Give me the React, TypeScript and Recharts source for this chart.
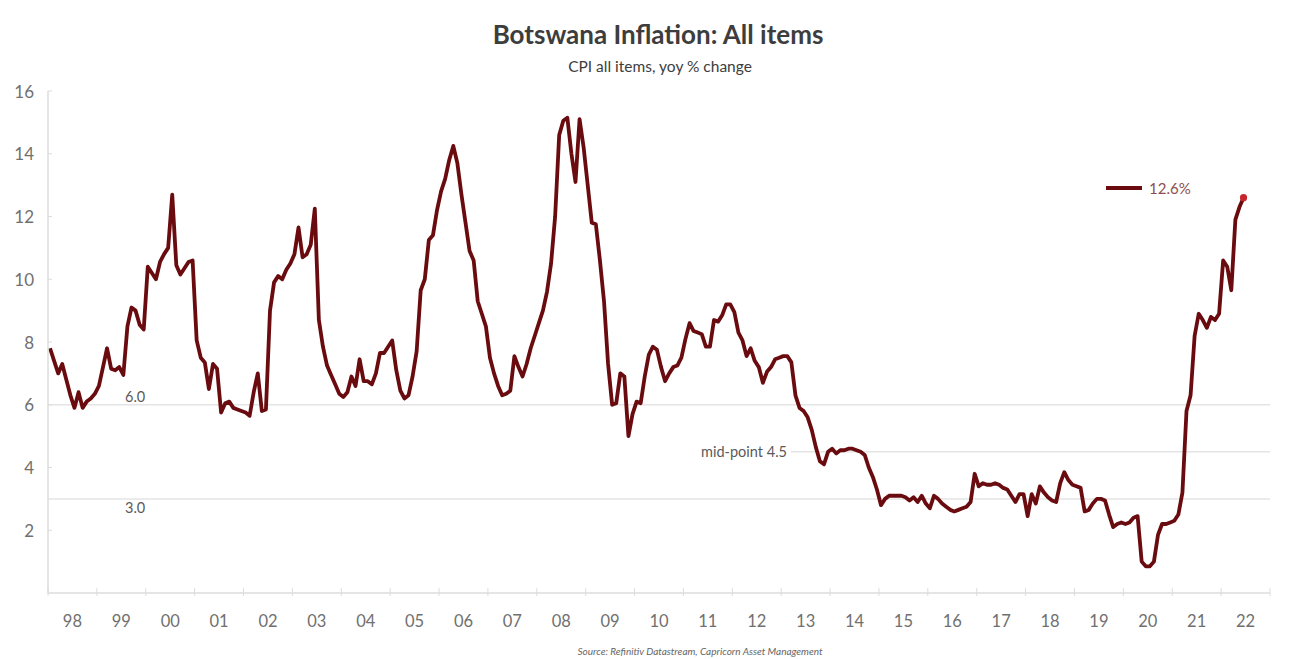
import { Line, LineChart, ReferenceLine, XAxis, YAxis } from "recharts";

// monthly CPI yoy %, Jan 1998 onwards
const startYear = 1998;
const cpiYoY: number[] = [
  // 1998
  7.8, 7.4, 7.0, 7.3, 6.8, 6.3, 5.9, 6.4, 5.9, 6.1, 6.2, 6.35,
  // 1999
  6.6, 7.2, 7.8, 7.15, 7.1, 7.2, 6.95, 8.5, 9.1, 9.0, 8.55, 8.4,
  // 2000
  10.4, 10.2, 10.0, 10.55, 10.8, 11.0, 12.7, 10.45, 10.15, 10.35, 10.55, 10.6,
  // 2001
  8.05, 7.5, 7.35, 6.5, 7.3, 7.15, 5.75, 6.05, 6.1, 5.9, 5.85, 5.8,
  // 2002
  5.75, 5.65, 6.4, 7.0, 5.8, 5.85, 9.0, 9.9, 10.1, 10.0, 10.3, 10.5,
  // 2003
  10.8, 11.65, 10.7, 10.8, 11.1, 12.25, 8.7, 7.85, 7.25, 6.95, 6.65, 6.35,
  // 2004
  6.25, 6.4, 6.9, 6.6, 7.45, 6.75, 6.75, 6.65, 7.0, 7.65, 7.65, 7.85,
  // 2005
  8.05, 7.1, 6.45, 6.2, 6.3, 6.9, 7.7, 9.65, 10.0, 11.25, 11.4, 12.2,
  // 2006
  12.8, 13.2, 13.8, 14.25, 13.7, 12.7, 11.8, 10.9, 10.6, 9.3, 8.9, 8.5,
  // 2007
  7.5, 7.0, 6.6, 6.3, 6.35, 6.45, 7.55, 7.2, 6.9, 7.3, 7.8, 8.2,
  // 2008
  8.6, 9.0, 9.6, 10.5, 12.0, 14.6, 15.05, 15.15, 14.0, 13.1, 15.1, 14.2,
  // 2009
  13.0, 11.8, 11.75, 10.6, 9.3, 7.3, 6.0, 6.05, 7.0, 6.9, 5.0, 5.7,
  // 2010
  6.1, 6.05, 6.9, 7.6, 7.85, 7.75, 7.2, 6.75, 7.0, 7.2, 7.25, 7.5,
  // 2011
  8.1, 8.6, 8.35, 8.3, 8.25, 7.85, 7.85, 8.7, 8.65, 8.85, 9.2, 9.2,
  // 2012
  8.95, 8.3, 8.05, 7.55, 7.8, 7.4, 7.2, 6.7, 7.05, 7.2, 7.45, 7.5,
  // 2013
  7.55, 7.55, 7.35, 6.3, 5.9, 5.8, 5.6, 5.2, 4.65, 4.2, 4.1, 4.5,
  // 2014
  4.6, 4.45, 4.55, 4.55, 4.6, 4.6, 4.55, 4.5, 4.4, 4.0, 3.7, 3.3,
  // 2015
  2.8, 3.0, 3.1, 3.1, 3.1, 3.1, 3.05, 2.95, 3.05, 2.9, 3.1, 2.85,
  // 2016
  2.7, 3.1, 3.0, 2.85, 2.75, 2.65, 2.6, 2.65, 2.7, 2.75, 2.9, 3.8,
  // 2017
  3.4, 3.5, 3.45, 3.45, 3.5, 3.45, 3.35, 3.3, 3.1, 2.9, 3.15, 3.15,
  // 2018
  2.45, 3.15, 2.85, 3.4, 3.2, 3.05, 2.95, 2.9, 3.5, 3.85, 3.6, 3.45,
  // 2019
  3.4, 3.35, 2.6, 2.65, 2.85, 3.0, 3.0, 2.95, 2.5, 2.1, 2.2, 2.25,
  // 2020
  2.2, 2.25, 2.4, 2.45, 1.0, 0.85, 0.85, 1.0, 1.85, 2.2, 2.2, 2.25,
  // 2021
  2.3, 2.5, 3.2, 5.8, 6.3, 8.2, 8.9, 8.7, 8.45, 8.8, 8.7, 8.9,
  // 2022
  10.6, 10.4, 9.65, 11.9, 12.3, 12.6,
];

const yearLabels = [
  "98", "99", "00", "01", "02", "03", "04", "05", "06", "07", "08", "09",
  "10", "11", "12", "13", "14", "15", "16", "17", "18", "19", "20", "21", "22",
];
const yTicks = [2, 4, 6, 8, 10, 12, 14, 16];
const bandLevels = [6, 4.5, 3];
const bandLabels = ["6.0", "mid-point 4.5", "3.0"];
// the mid-point line only starts to the right of its label
const bandStarts = [1998, 2013.2, 1998];
const latestLabel = "12.6%";

const title = "Botswana Inflation: All items";
const subtitle = "CPI all items, yoy % change";
const source = "Source: Refinitiv Datastream, Capricorn Asset Management";

const chartData = cpiYoY.map((v, i) => ({ t: startYear + (i + 0.5) / 12, v }));
const endYear = startYear + yearLabels.length;
const yearBounds = [...yearLabels.map((_, i) => startYear + i), endYear];

const WIDTH = 1302;
const HEIGHT = 659;
const PLOT_LEFT = 48;
const PLOT_RIGHT = 1270;
const PLOT_TOP = 91;
const PLOT_BOTTOM = 593;
const X_AXIS_H = 30;
const halfYear = (PLOT_RIGHT - PLOT_LEFT) / yearLabels.length / 2;

const FONT = "Lato, 'Open Sans', sans-serif";
const LINE_COLOR = "#6a0c0f";
const AXIS = "#dcdcdc";
const TICK_TEXT = "#707070";

function YearTick(props: any) {
  const { x, y, payload } = props;
  const idx = Math.round(payload.value - startYear);
  return (
    <g>
      <line x1={x} x2={x} y1={y - 5} y2={y + 3} stroke={AXIS} strokeWidth={1} />
      {idx < yearLabels.length && (
        <text
          x={x + halfYear}
          y={y + 28}
          textAnchor="middle"
          dominantBaseline="central"
          fontFamily={FONT}
          fontSize={16.5}
          fill={TICK_TEXT}
        >
          {yearLabels[idx]}
        </text>
      )}
    </g>
  );
}

function ValueTick(props: any) {
  const { x, y, payload } = props;
  return (
    <g>
      <line x1={PLOT_LEFT} x2={PLOT_LEFT + 4} y1={y} y2={y} stroke={AXIS} />
      <text
        x={x}
        y={y}
        textAnchor="end"
        dominantBaseline="central"
        fontFamily={FONT}
        fontSize={17}
        fill={TICK_TEXT}
      >
        {payload.value}
      </text>
    </g>
  );
}

function bandLabel(i: number) {
  return (props: any) => {
    const vb = props.viewBox || {};
    const text = bandLabels[i];
    const common = {
      fontFamily: FONT,
      fontSize: 14.5,
      fill: "#5a5a5a",
      dominantBaseline: "central" as const,
    };
    if (i === 1) {
      // label sits just left of where the line begins
      return (
        <text x={vb.x - 4} y={vb.y} textAnchor="end" {...common}>
          {text}
        </text>
      );
    }
    const dy = i === 0 ? -8 : 9;
    return (
      <text x={vb.x + 77} y={vb.y + dy} {...common}>
        {text}
      </text>
    );
  };
}

function LastDot(props: any) {
  const { cx, cy, index } = props;
  if (index !== cpiYoY.length - 1) return <g key={`d${index}`} />;
  return <circle key={`d${index}`} cx={cx} cy={cy} r={3.6} fill="#c8262d" />;
}

export default function App() {
  return (
    <div
      style={{
        position: "absolute",
        left: 0,
        top: 0,
        width: WIDTH,
        height: HEIGHT,
        background: "#fff",
        fontFamily: FONT,
      }}
    >
      <div
        style={{
          position: "absolute",
          top: 18,
          left: 0,
          width: 1316,
          textAlign: "center",
          fontSize: 26,
          fontWeight: 700,
          color: "#3d3d3d",
        }}
      >
        {title}
      </div>
      <div
        style={{
          position: "absolute",
          top: 57,
          left: 0,
          width: 1320,
          textAlign: "center",
          fontSize: 15.5,
          color: "#3d3d3d",
        }}
      >
        {subtitle}
      </div>

      <LineChart
        width={WIDTH}
        height={HEIGHT}
        data={chartData}
        margin={{
          top: PLOT_TOP,
          right: WIDTH - PLOT_RIGHT,
          bottom: HEIGHT - PLOT_BOTTOM - X_AXIS_H,
          left: 0,
        }}
      >
        <XAxis
          dataKey="t"
          type="number"
          domain={[startYear, endYear]}
          ticks={yearBounds}
          interval={0}
          height={X_AXIS_H}
          tickSize={0}
          tickMargin={0}
          tickLine={false}
          axisLine={{ stroke: AXIS, strokeWidth: 1.5 }}
          tick={YearTick}
        />
        <YAxis
          type="number"
          domain={[0, 16]}
          ticks={yTicks}
          interval={0}
          width={PLOT_LEFT}
          tickSize={0}
          tickMargin={14}
          tickLine={false}
          axisLine={{ stroke: AXIS, strokeWidth: 1.5 }}
          tick={ValueTick}
        />
        {bandLevels.map((lvl, i) => (
          <ReferenceLine
            key={lvl}
            segment={[
              { x: bandStarts[i], y: lvl },
              { x: endYear, y: lvl },
            ]}
            stroke="#e4e4e4"
            strokeWidth={1.5}
            label={bandLabel(i)}
          />
        ))}
        <Line
          type="linear"
          dataKey="v"
          stroke={LINE_COLOR}
          strokeWidth={3.8}
          strokeLinejoin="round"
          dot={LastDot}
          activeDot={false}
          isAnimationActive={false}
        />
      </LineChart>

      {/* legend */}
      <div
        style={{
          position: "absolute",
          left: 1106,
          top: 186,
          width: 36,
          height: 4,
          background: LINE_COLOR,
        }}
      />
      <div
        style={{
          position: "absolute",
          left: 1149,
          top: 179,
          fontSize: 15,
          color: "#8d4e4e",
        }}
      >
        {latestLabel}
      </div>

      <div
        style={{
          position: "absolute",
          top: 645,
          left: 0,
          width: 1400,
          textAlign: "center",
          fontSize: 10,
          fontStyle: "italic",
          color: "#666",
        }}
      >
        {source}
      </div>
    </div>
  );
}
